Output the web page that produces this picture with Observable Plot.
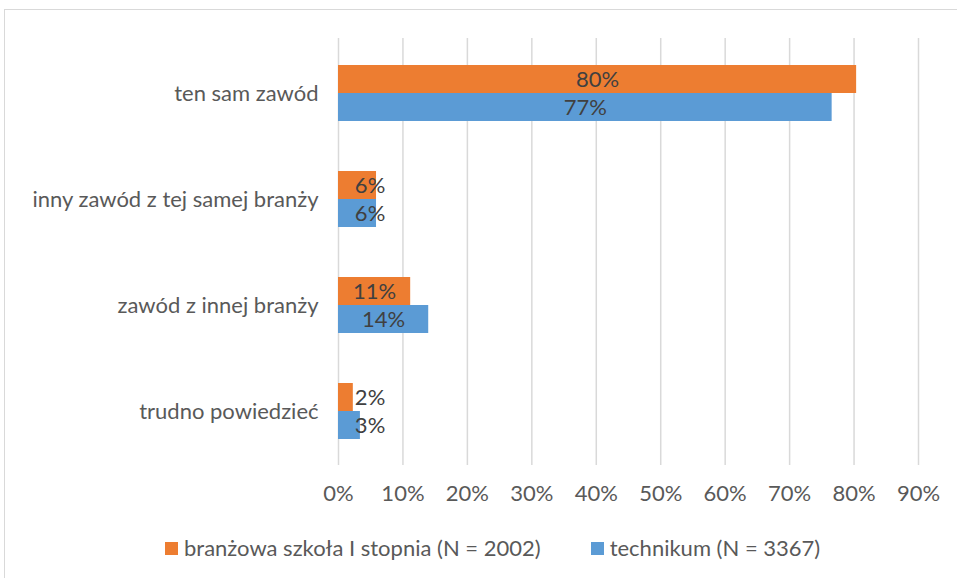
<!DOCTYPE html>
<html>
<head>
<meta charset="utf-8">
<script src="https://cdn.jsdelivr.net/npm/d3@7"></script>
<script src="https://cdn.jsdelivr.net/npm/@observablehq/plot@0.6"></script>
<style>
  html, body { margin: 0; padding: 0; background: #fff; width: 957px; height: 578px; overflow: hidden; }
  #frame { position: absolute; left: 4px; top: 9px; width: 1000px; height: 620px; border: 1px solid #d9d9d9; box-sizing: border-box; }
  #chart { position: absolute; left: 0; top: 0; }
  #legend { position: absolute; left: 165px; top: 535px; display: flex; align-items: center; font-family: Lato, "Open Sans", sans-serif; font-size: 22px; color: #595959; line-height: 26px; }
  .item { display: flex; align-items: center; margin-right: 50px; }
  .sw { width: 13px; height: 13px; margin-right: 6px; display: inline-block; }
</style>
</head>
<body>
<div id="frame"></div>
<div id="chart"></div>
<div id="legend"></div>
<script>
const categories = ["ten sam zawód", "inny zawód z tej samej branży", "zawód z innej branży", "trudno powiedzieć"];
const seriesNames = ["branżowa szkoła I stopnia (N = 2002)", "technikum (N = 3367)"];
const seriesColors = ["#ED7D31", "#5B9BD5"];
const branzowaValues = [80.4, 5.9, 11.2, 2.3];
const technikumValues = [76.6, 5.9, 14.0, 3.4];
const xTicks = [0, 10, 20, 30, 40, 50, 60, 70, 80, 90];

const orange = categories.map((c, i) => ({category: c, value: branzowaValues[i]}));
const blue = categories.map((c, i) => ({category: c, value: technikumValues[i]}));

const labelX = d => Math.max(d.value / 2, 4.9);
const labelText = d => Math.round(d.value) + "%";

const chart = Plot.plot({
  width: 957,
  height: 525,
  marginLeft: 338,
  marginRight: 39,
  marginTop: 38,
  marginBottom: 60,
  style: {fontFamily: "Lato, 'Open Sans', sans-serif", fontSize: "22px", color: "#595959", background: "transparent"},
  x: {domain: [0, 90], ticks: xTicks, tickFormat: d => d + "%", tickSize: 0, tickPadding: 20, label: null},
  y: {domain: categories, paddingInner: 0.475, paddingOuter: 0.2377, tickSize: 0, tickPadding: 20, label: null},
  marks: [
    Plot.ruleX(xTicks, {stroke: "#d9d9d9", strokeWidth: 1.5}),
    Plot.barX(orange, {x: "value", y: "category", fill: seriesColors[0], insetBottom: 28}),
    Plot.barX(blue, {x: "value", y: "category", fill: seriesColors[1], insetTop: 28}),
    Plot.text(orange, {x: labelX, y: "category", dy: -14, text: labelText, fill: "#404040", fontSize: 22}),
    Plot.text(blue, {x: labelX, y: "category", dy: 14, text: labelText, fill: "#404040", fontSize: 22})
  ]
});
document.getElementById("chart").appendChild(chart);

const legend = document.getElementById("legend");
seriesNames.forEach((name, i) => {
  const item = document.createElement("div");
  item.className = "item";
  const sw = document.createElement("span");
  sw.className = "sw";
  sw.style.background = seriesColors[i];
  item.appendChild(sw);
  item.appendChild(document.createTextNode(name));
  legend.appendChild(item);
});
</script>
</body>
</html>
